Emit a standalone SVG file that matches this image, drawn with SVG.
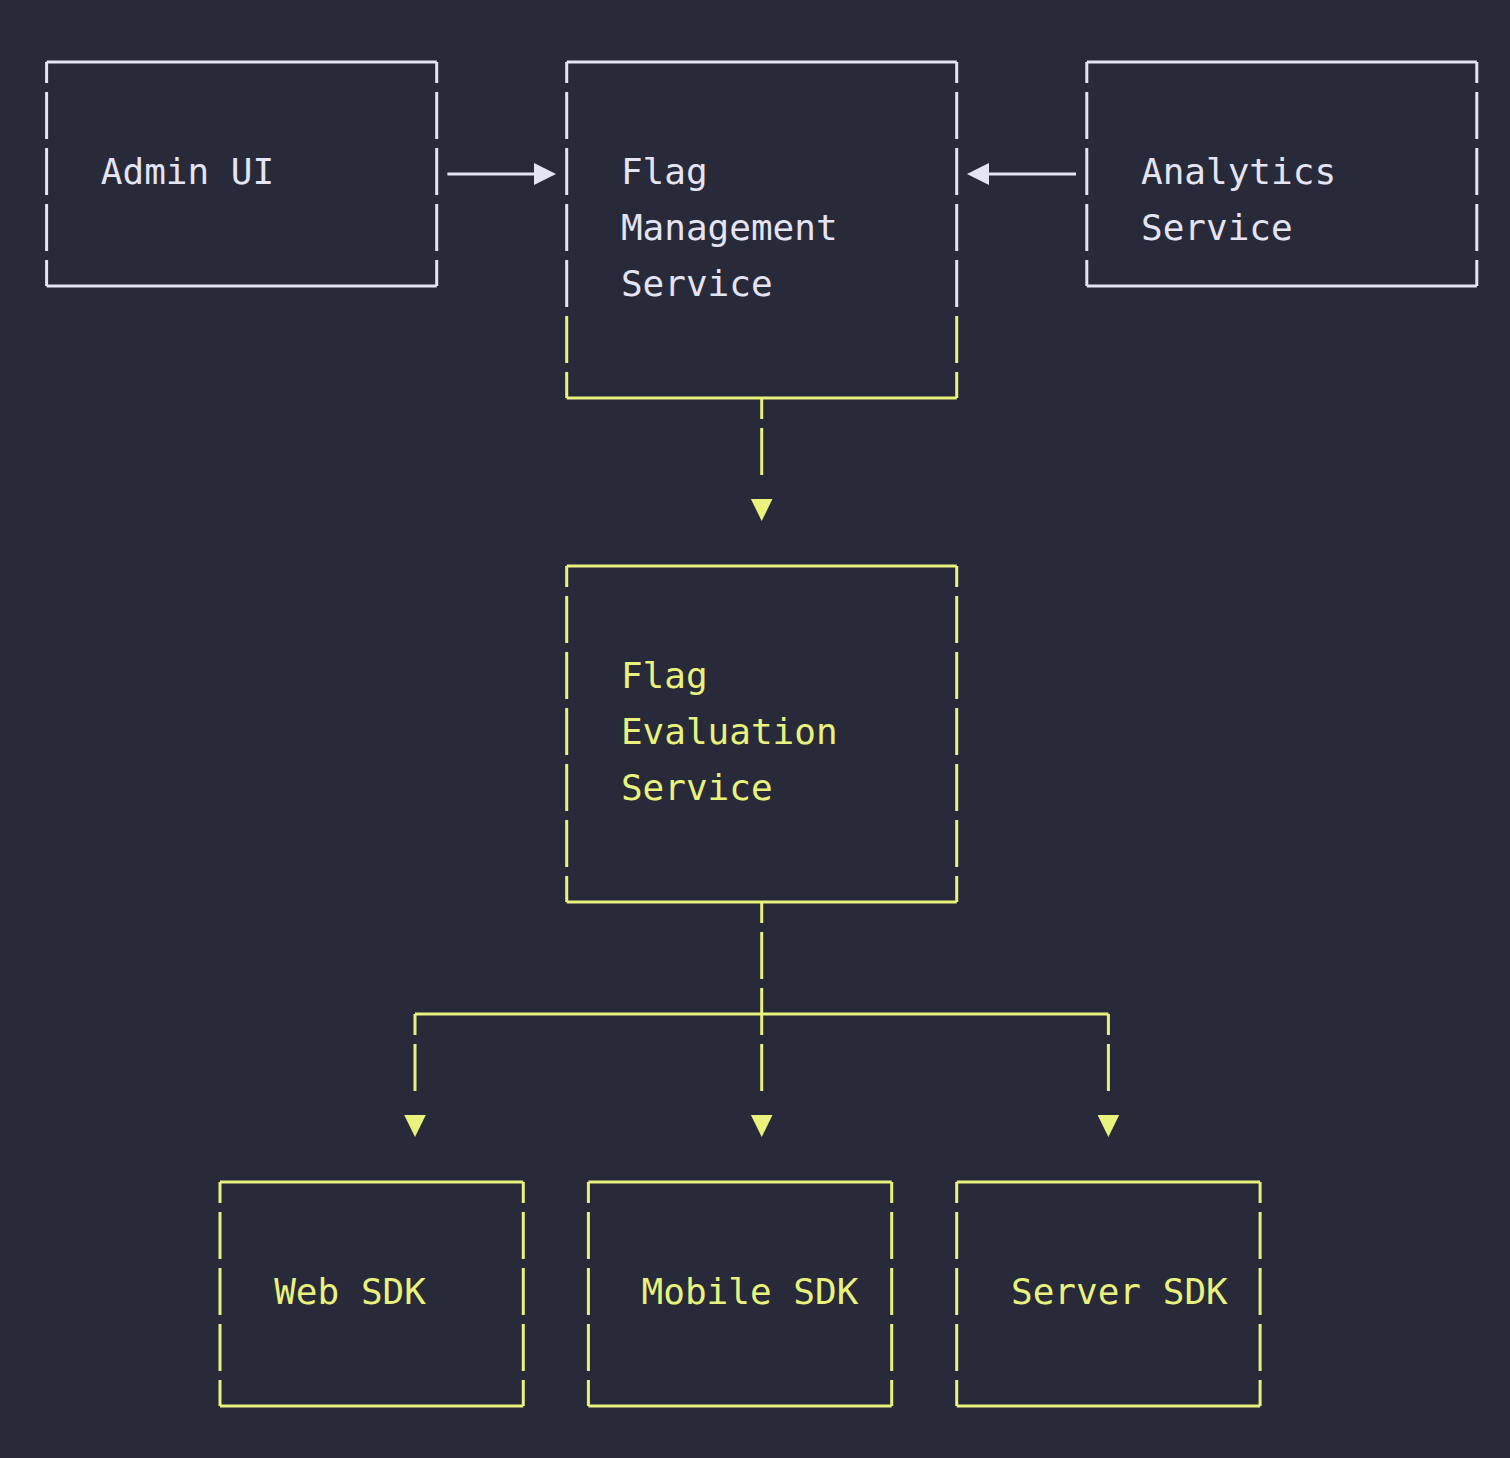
<svg xmlns="http://www.w3.org/2000/svg" width="1510" height="1458" viewBox="0 0 1510 1458">
<style>
.w{stroke:#e4e4f2;fill:none;stroke-width:3}
.y{stroke:#e8f27c;fill:none;stroke-width:3}
.v{stroke-dasharray:47 9;stroke-dashoffset:26}
.v0{stroke-dasharray:47 9;stroke-dashoffset:0}
.tw{fill:#e4e4f2;font-family:"DejaVu Sans Mono","Liberation Mono",monospace;font-size:36px}
.ty{fill:#e8f27c;font-family:"DejaVu Sans Mono","Liberation Mono",monospace;font-size:36px}
.hw{fill:#e4e4f2}
.hy{fill:#e8f27c}
</style>
<rect width="1510" height="1458" fill="#282a3a"/>
<g id="admin-ui">
<path class="w" d="M46.6 62H436.7M46.6 286H436.7"/>
<line class="w v" x1="46.6" y1="62" x2="46.6" y2="286"/>
<line class="w v" x1="436.7" y1="62" x2="436.7" y2="286"/>
<text class="tw" x="100.8" y="184">Admin UI</text>
</g>
<g id="flag-management-service">
<path class="w" d="M566.7 62H956.7"/>
<line class="w v" x1="566.7" y1="62" x2="566.7" y2="316"/>
<line class="w v" x1="956.7" y1="62" x2="956.7" y2="316"/>
<line class="y v0" x1="566.7" y1="316" x2="566.7" y2="398"/>
<line class="y v0" x1="956.7" y1="316" x2="956.7" y2="398"/>
<path class="y" d="M566.7 398H956.7"/>
<text class="tw" x="620.9" y="184">Flag</text>
<text class="tw" x="620.9" y="240">Management</text>
<text class="tw" x="620.9" y="296">Service</text>
</g>
<g id="analytics-service">
<path class="w" d="M1086.8 62H1476.8M1086.8 286H1476.8"/>
<line class="w v" x1="1086.8" y1="62" x2="1086.8" y2="286"/>
<line class="w v" x1="1476.8" y1="62" x2="1476.8" y2="286"/>
<text class="tw" x="1141" y="184">Analytics</text>
<text class="tw" x="1141" y="240">Service</text>
</g>
<g id="flag-evaluation-service">
<path class="y" d="M566.7 566H956.7M566.7 902H956.7"/>
<line class="y v" x1="566.7" y1="566" x2="566.7" y2="902"/>
<line class="y v" x1="956.7" y1="566" x2="956.7" y2="902"/>
<text class="ty" x="620.9" y="688">Flag</text>
<text class="ty" x="620.9" y="744">Evaluation</text>
<text class="ty" x="620.9" y="800">Service</text>
</g>
<g id="web-sdk">
<path class="y" d="M220 1182H523.3M220 1406H523.3"/>
<line class="y v" x1="220" y1="1182" x2="220" y2="1406"/>
<line class="y v" x1="523.3" y1="1182" x2="523.3" y2="1406"/>
<text class="ty" x="274.2" y="1304">Web SDK</text>
</g>
<g id="mobile-sdk">
<path class="y" d="M588.4 1182H891.7M588.4 1406H891.7"/>
<line class="y v" x1="588.4" y1="1182" x2="588.4" y2="1406"/>
<line class="y v" x1="891.7" y1="1182" x2="891.7" y2="1406"/>
<text class="ty" x="641.6" y="1304">Mobile SDK</text>
</g>
<g id="server-sdk">
<path class="y" d="M956.7 1182H1260.1M956.7 1406H1260.1"/>
<line class="y v" x1="956.7" y1="1182" x2="956.7" y2="1406"/>
<line class="y v" x1="1260.1" y1="1182" x2="1260.1" y2="1406"/>
<text class="ty" x="1011" y="1304">Server SDK</text>
</g>
<g id="connectors">
<line class="w" x1="447.4" y1="174" x2="535" y2="174"/>
<polygon class="hw" points="534,163 556,174 534,185"/>
<line class="w" x1="1076" y1="174" x2="988" y2="174"/>
<polygon class="hw" points="989,163 967,174 989,185"/>
<line class="y v" x1="761.7" y1="398" x2="761.7" y2="475"/>
<polygon class="hy" points="750.9,499 772.5,499 761.7,521"/>
<line class="y v" x1="761.7" y1="902" x2="761.7" y2="1091"/>
<path class="y" d="M415 1014H1108.4"/>
<line class="y v" x1="415" y1="1014" x2="415" y2="1091"/>
<line class="y v" x1="1108.4" y1="1014" x2="1108.4" y2="1091"/>
<polygon class="hy" points="404.2,1115 425.8,1115 415,1137"/>
<polygon class="hy" points="750.9,1115 772.5,1115 761.7,1137"/>
<polygon class="hy" points="1097.6,1115 1119.2,1115 1108.4,1137"/>
</g>
</svg>
